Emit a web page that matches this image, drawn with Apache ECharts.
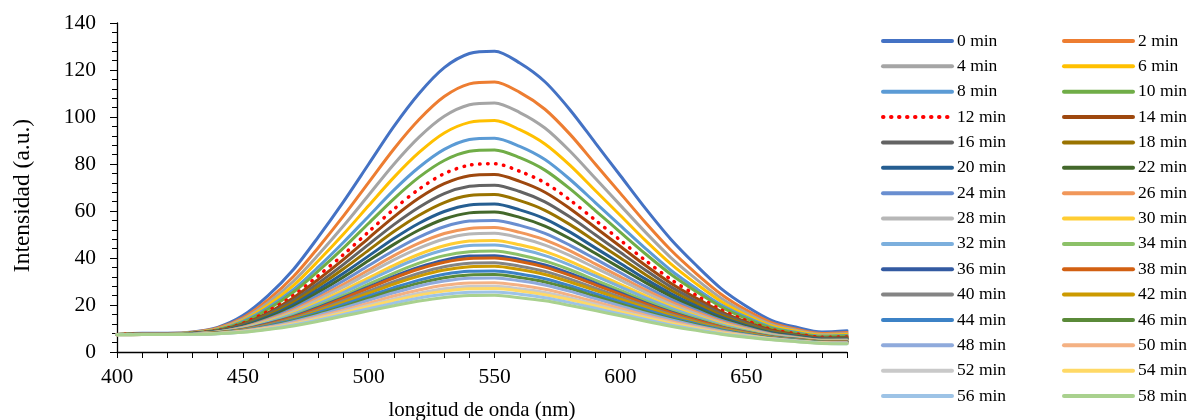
<!DOCTYPE html>
<html>
<head>
<meta charset="utf-8">
<script src="https://cdn.jsdelivr.net/npm/echarts@6/dist/echarts.min.js"></script>
<style>
html,body{margin:0;padding:0;background:#fff;}
#chart{width:1194px;height:420px;}
</style>
</head>
<body>
<div id="chart"></div>
<script>
// wavelength (nm)
const wavelengths = [400,410,420,430,440,450,460,470,480,490,500,510,520,530,540,550,560,570,580,590,600,610,620,630,640,650,660,670,680,690];
const legendNames = ['0 min','2 min','4 min','6 min','8 min','10 min','12 min','14 min','16 min','18 min','20 min','22 min','24 min','26 min','28 min','30 min','32 min','34 min','36 min','38 min','40 min','42 min','44 min','46 min','48 min','50 min','52 min','54 min','56 min','58 min'];
const xTicks = [400,450,500,550,600,650];

const m0  = [7.5,8,8,8.5,10.5,15.5,24,35,49,64,80,96,110,121,127,128,123,115,103,89,75,61,48,37,27,19.5,13.5,10.5,8.5,9];
const m2  = [7.5,7.9,7.9,8.4,10.2,14.6,22.2,32,44.5,57.9,72.2,86.4,98.9,108.7,114.1,114.9,110.5,103.3,92.6,80,67.5,55,43.4,33.5,24.6,17.8,12.5,9.7,7.9,8.3];
const m4  = [7.5,7.9,7.9,8.3,9.9,14,21,30,41.4,53.7,66.8,79.9,91.4,100.3,105.2,106,101.9,95.3,85.4,73.9,62.4,50.9,40.2,31.1,22.9,16.7,11.7,9.2,7.5,7.8];
const m6  = [7.5,7.8,7.8,8.2,9.7,13.5,19.9,28.2,38.8,50.2,62.3,74.3,84.9,93.2,97.7,98.5,94.6,88.5,79.4,68.7,58.1,47.4,37.5,29.1,21.5,15.7,11.1,8.8,7.1,7.4];
const m8  = [7.4,7.8,7.8,8.1,9.5,13,18.9,26.5,36.2,46.7,57.8,68.9,78.6,86.2,90.4,91,87.5,81.9,73.4,63.6,53.8,44,34.8,27.1,20.1,14.8,10.5,8.3,6.8,7];
const m10 = [7.4,7.8,7.8,8.1,9.4,12.6,18.2,25.4,34.5,44.3,54.8,65.2,74.4,81.5,85.4,86,82.7,77.4,69.4,60.2,50.9,41.7,33.1,25.8,19.2,14.2,10.1,8,6.5,6.8];
const m12 = [7.4,7.7,7.7,8,9.2,12.2,17.4,24,32.5,41.5,51.2,60.8,69.3,75.9,79.5,80.1,76.9,72,64.6,56.1,47.5,38.9,30.9,24.2,18,13.4,9.6,7.7,6.3,6.4];
const m14 = [7.4,7.7,7.7,8,9.1,11.9,16.7,23,30.9,39.4,48.5,57.5,65.5,71.6,75,75.5,72.6,68,61,53,44.9,36.8,29.3,23,17.2,12.8,9.3,7.4,6,6.2];
const m16 = [7.4,7.7,7.7,7.9,9,11.6,16.1,21.9,29.3,37.3,45.8,54.2,61.6,67.4,70.5,71,68.3,63.9,57.4,49.9,42.3,34.8,27.7,21.8,16.4,12.3,8.9,7.1,5.8,6];
const m18 = [7.4,7.65,7.65,7.9,8.9,11.35,15.55,21,27.95,35.4,43.35,51.25,58.2,63.6,66.55,67,64.4,60.3,54.2,47.1,40,32.9,26.3,20.7,15.6,11.75,8.6,6.9,5.65,5.75];
const m20 = [7.4,7.6,7.6,7.9,8.8,11.1,15,20.1,26.6,33.5,40.9,48.3,54.8,59.8,62.6,63,60.5,56.7,51,44.3,37.7,31,24.9,19.6,14.8,11.2,8.3,6.7,5.5,5.5];
const m22 = [7.4,7.6,7.6,7.8,8.7,10.8,14.5,19.3,25.4,31.9,38.9,45.8,51.9,56.6,59.2,59.6,57.3,53.6,48.2,42,35.7,29.5,23.7,18.7,14.2,10.8,8,6.5,5.3,5.4];
const m24 = [7.4,7.6,7.6,7.8,8.6,10.6,14,18.5,24.2,30.3,36.8,43.2,48.9,53.3,55.7,56,53.9,50.5,45.4,39.6,33.7,27.8,22.4,17.8,13.5,10.4,7.7,6.3,5.1,5.2];
const m26 = [7.4,7.6,7.6,7.8,8.5,10.4,13.6,17.8,23.1,28.8,34.9,41,46.3,50.4,52.6,53,50.9,47.7,43,37.5,32,26.4,21.3,17,13,10,7.5,6.1,5,5];
const m28 = [7.4,7.6,7.6,7.7,8.5,10.2,13.3,17.2,22.3,27.7,33.5,39.2,44.2,48.1,50.2,50.5,48.6,45.5,41,35.8,30.6,25.3,20.4,16.3,12.5,9.7,7.3,5.9,4.9,4.9];
const m30 = [7.4,7.5,7.5,7.7,8.4,10,12.9,16.5,21.2,26.2,31.6,36.9,41.6,45.2,47.2,47.5,45.6,42.8,38.6,33.7,28.8,23.9,19.4,15.5,12,9.3,7,5.7,4.7,4.7];
const m32 = [7.4,7.5,7.5,7.7,8.3,9.9,12.6,16.1,20.5,25.3,30.4,35.5,40,43.4,45.3,45.5,43.8,41,37,32.4,27.7,23,18.7,15,11.6,9,6.9,5.6,4.6,4.6];
const m34 = [7.4,7.5,7.5,7.7,8.3,9.7,12.2,15.5,19.7,24.1,28.9,33.6,37.8,41,42.7,43,41.3,38.7,35,30.6,26.2,21.8,17.8,14.3,11.1,8.7,6.7,5.5,4.5,4.5];
const m36 = [7.4,7.5,7.5,7.6,8.2,9.6,12,15,19,23.2,27.7,32.2,36.1,39.1,40.8,41,39.4,37,33.4,29.3,25.1,20.9,17.1,13.8,10.7,8.4,6.5,5.4,4.4,4.4];
const m38 = [7.4,7.5,7.5,7.6,8.2,9.5,11.8,14.8,18.6,22.8,27.2,31.5,35.3,38.2,39.8,40,38.5,36.1,32.6,28.6,24.5,20.5,16.7,13.5,10.6,8.3,6.4,5.3,4.4,4.3];
const m40 = [7.4,7.5,7.5,7.6,8.1,9.4,11.5,14.3,17.9,21.8,25.9,29.9,33.5,36.3,37.8,38,36.5,34.3,31,27.2,23.3,19.5,16,12.9,10.2,8.1,6.3,5.2,4.3,4.2];
const m42 = [7.4,7.5,7.5,7.6,8.1,9.3,11.3,14,17.4,21.1,25,28.9,32.3,34.9,36.3,36.5,35.1,33,29.8,26.2,22.5,18.9,15.5,12.6,9.9,7.9,6.2,5.1,4.2,4.1];
const m44 = [7.4,7.5,7.5,7.6,8,9.1,11.1,13.6,16.8,20.2,23.9,27.4,30.6,33.1,34.4,34.5,33.2,31.2,28.2,24.8,21.4,18,14.8,12,9.5,7.6,6,5,4.1,4];
const m46 = [7.4,7.5,7.5,7.6,8,9,10.8,13.2,16.2,19.4,22.9,26.3,29.3,31.6,32.8,33,31.7,29.8,27,23.7,20.5,17.2,14.2,11.6,9.2,7.4,5.9,4.9,4.1,3.9];
const m48 = [7.4,7.4,7.4,7.6,8,8.9,10.6,12.9,15.7,18.8,22,25.2,28.1,30.2,31.4,31.5,30.3,28.5,25.8,22.7,19.6,16.5,13.7,11.2,9,7.2,5.7,4.8,4,3.9];
const m50 = [7.3,7.4,7.4,7.5,7.9,8.8,10.4,12.4,15,17.8,20.8,23.8,26.4,28.4,29.4,29.5,28.4,26.7,24.2,21.4,18.5,15.6,13,10.7,8.6,7,5.6,4.7,3.9,3.8];
const m52 = [7.3,7.4,7.4,7.5,7.9,8.7,10.1,12,14.5,17.1,19.9,22.6,25,26.9,27.9,28,26.9,25.3,23,20.3,17.6,14.9,12.4,10.3,8.3,6.8,5.5,4.6,3.8,3.7];
const m54 = [7.3,7.4,7.4,7.5,7.9,8.6,10,11.8,14.1,16.6,19.3,21.9,24.2,25.9,26.9,27,26,24.4,22.2,19.6,17,14.5,12.1,10,8.1,6.7,5.4,4.5,3.8,3.6];
const m56 = [7.3,7.4,7.4,7.5,7.8,8.5,9.8,11.5,13.6,16,18.4,20.8,23,24.6,25.4,25.5,24.6,23.1,21,18.6,16.2,13.8,11.5,9.6,7.8,6.5,5.3,4.5,3.7,3.5];
const m58 = [7.3,7.4,7.4,7.5,7.8,8.4,9.6,11.1,13.1,15.3,17.5,19.7,21.7,23.2,24,24.1,23.1,21.8,19.8,17.6,15.4,13.1,11,9.2,7.6,6.3,5.2,4.4,3.6,3.5];

const seriesValues = [m0,m2,m4,m6,m8,m10,m12,m14,m16,m18,m20,m22,m24,m26,m28,m30,m32,m34,m36,m38,m40,m42,m44,m46,m48,m50,m52,m54,m56,m58];
const colors = ['#4472C4','#ED7D31','#A5A5A5','#FFC000','#5B9BD5','#70AD47','#FF0000','#9E480E','#636363','#997300','#255E91','#43682B',
  '#698ED0','#F1975A','#B7B7B7','#FFCD33','#7CAFDD','#8CC168','#335AA1','#D26012','#848484','#CC9A00','#3C82C6','#5A8A39',
  '#8FAADC','#F4B183','#C9C9C9','#FFD966','#9DC3E6','#A9D18E'];

const FONT = 'Liberation Serif';
const chart = echarts.init(document.getElementById('chart'), null, {renderer:'canvas'});

const series = seriesValues.map((vals, i) => ({
  name: legendNames[i],
  type: 'line',
  data: wavelengths.map((w, j) => [w, vals[j]]),
  symbol: 'none',
  smooth: 0.3,
  animation: false,
  lineStyle: i === 6
    ? {color: colors[i], width: 3.5, type: [0.5, 7.5], cap: 'round'}
    : {color: colors[i], width: 3, cap: 'round', join: 'round'},
  itemStyle: {color: colors[i]},
  emphasis: {disabled: true}
}));

const legendBase = {
  orient: 'vertical',
  itemWidth: 69,
  itemHeight: 18,
  itemGap: 7.36,
  top: 32,
  height: 386,
  padding: 0,
  selectedMode: false,
  itemStyle: {opacity: 0},
  lineStyle: {width: 4, cap: 'round', opacity: 1},
  textStyle: {fontFamily: FONT, fontSize: 17.5, color: '#000', lineHeight: 18, padding: [0,0,0,0]}
};

chart.setOption({
  animation: false,
  backgroundColor: '#fff',
  grid: {left: 117, right: 347, top: 23, bottom: 68, containLabel: false, outerBoundsMode: 'none'},
  legend: [
    Object.assign({}, legendBase, {left: 881, data: legendNames.filter((_, i) => i % 2 === 0)}),
    Object.assign({}, legendBase, {left: 1062, data: legendNames.filter((_, i) => i % 2 === 1)})
  ],
  xAxis: {
    type: 'value',
    min: 400, max: 690, interval: 10,
    name: 'longitud de onda (nm)',
    nameLocation: 'middle',
    nameGap: 48,
    nameTextStyle: {fontFamily: FONT, fontSize: 21, color: '#000'},
    axisLine: {lineStyle: {color: '#000', width: 1.3}},
    axisTick: {show: true, inside: false, length: 6, lineStyle: {color: '#000'}},
    axisLabel: {
      fontFamily: FONT, fontSize: 21.5, color: '#000', margin: 14,
      showMaxLabel: true,
      formatter: v => xTicks.indexOf(v) >= 0 ? String(v) : ''
    },
    splitLine: {show: false}
  },
  yAxis: {
    type: 'value',
    min: 0, max: 140, interval: 20,
    name: 'Intensidad (a.u.)',
    nameLocation: 'middle',
    nameGap: 82,
    nameTextStyle: {fontFamily: FONT, fontSize: 23.5, color: '#000', padding: [0, 16, 0, 0]},
    axisLine: {show: true, lineStyle: {color: '#000', width: 1.3}},
    axisTick: {show: true, inside: false, length: 7, lineStyle: {color: '#000'}},
    minorTick: {show: true, splitNumber: 5, length: 5, lineStyle: {color: '#000'}},
    axisLabel: {fontFamily: FONT, fontSize: 21.5, color: '#000', margin: 21},
    splitLine: {show: false}
  },
  series: series
});
</script>
</body>
</html>
